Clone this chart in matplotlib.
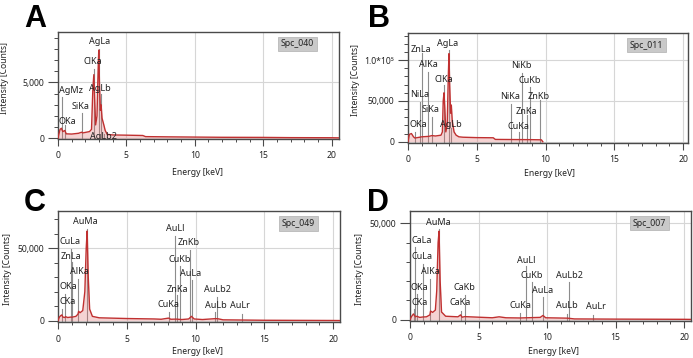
import matplotlib
matplotlib.use("Agg")
import matplotlib.pyplot as plt
from matplotlib.ticker import MultipleLocator, FuncFormatter

plt.rcParams['font.family'] = ['Noto Sans', 'DejaVu Sans']

# ---------------- DATA ----------------
# Panel A (Spc_040)
A_spec_keV = [0, 0.05, 0.15, 0.25, 0.35, 0.5, 0.6, 1.0, 1.5, 1.74, 1.8, 2.3, 2.45, 2.55, 2.62, 2.68,
              2.75, 2.85, 2.93, 2.98, 3.03, 3.1, 3.15, 3.22, 3.35, 3.45, 3.6, 4.0, 5.0, 6.2, 6.4, 8,
              10, 12, 15, 17, 20, 20.5]
A_spec_cts = [0, 300, 800, 900, 600, 700, 400, 380, 450, 550, 480, 600, 800, 4500, 5700, 3500,
              1200, 2000, 6000, 7900, 5000, 2500, 3000, 1800, 1200, 700, 350, 300, 280, 250, 150, 130,
              110, 90, 80, 60, 50, 40]
A_line_names = ["OKa", "AgMz", "SiKa", "ClKa", "AgLa", "AgLb", "AgLb2"]
A_line_keV = [0.525, 0.3, 1.74, 2.62, 2.98, 3.15, 3.35]
A_line_top = [1190, 3700, 2230, 6250, 8040, 4000, 400]

# Panel B (Spc_011)
B_spec_keV = [0, 0.1, 0.25, 0.4, 0.5, 0.85, 1.0, 1.5, 1.74, 2.0, 2.4, 2.5, 2.56, 2.62, 2.68, 2.75,
              2.85, 2.93, 2.98, 3.03, 3.1, 3.15, 3.22, 3.35, 3.5, 3.7, 4.0, 5.0, 6.2, 6.35, 8.0,
              9.0, 9.7, 9.8]
B_spec_cts = [0, 9000, 10000, 6000, 4500, 5500, 6000, 6500, 7500, 7000, 8000, 12000, 50000, 60000,
              40000, 12000, 20000, 80000, 108000, 70000, 35000, 45000, 25000, 12000, 8000, 6000,
              5500, 5000, 4800, 2800, 2600, 2500, 2300, 0]
B_line_names = ["OKa", "NiLa", "ZnLa", "AlKa", "SiKa", "ClKa", "AgLa", "AgLb",
                "NiKa", "CuKa", "NiKb", "ZnKa", "CuKb", "ZnKb"]
B_line_keV = [0.525, 0.85, 1.012, 1.486, 1.74, 2.62, 2.98, 3.15, 7.47, 8.04, 8.26, 8.63, 8.9, 9.57]
B_line_top = [12300, 49100, 108600, 86000, 30700, 69700, 112000, 16400,
              46000, 12300, 84000, 32800, 67000, 51200]

# Panel C (Spc_049)
C_spec_keV = [0, 0.1, 0.2, 0.28, 0.35, 0.5, 0.55, 0.7, 0.93, 1.0, 1.3, 1.45, 1.5, 1.6, 1.8, 1.95,
              2.05, 2.12, 2.2, 2.3, 2.5, 3.0, 5.0, 7.0, 7.5, 8.04, 8.2, 8.6, 9.0, 9.5, 9.7, 9.9,
              10.5, 11.4, 11.6, 12.0, 15.0, 20.0, 20.5]
C_spec_cts = [0, 2500, 3500, 4000, 2500, 2200, 2800, 2200, 2500, 2400, 3000, 4500, 6500, 5500,
              7000, 20000, 50000, 62000, 30000, 8000, 3000, 2000, 1500, 1200, 1000, 1800, 1000,
              1100, 800, 1200, 3000, 1200, 800, 1400, 1400, 600, 300, 150, 100]
C_line_names = ["CKa", "OKa", "CuLa", "ZnLa", "AlKa", "AuMa", "CuKa", "AuLl", "ZnKa", "CuKb",
                "ZnKb", "AuLa", "AuLb", "AuLb2", "AuLr"]
C_line_keV = [0.277, 0.525, 0.93, 1.012, 1.486, 2.12, 8.04, 8.49, 8.63, 8.9, 9.57, 9.71,
              11.44, 11.58, 13.38]
C_line_top = [8100, 18400, 49500, 40300, 28800, 63300, 6200, 58700, 17500, 37800, 48600, 27900,
              6000, 16200, 4600]

# Panel D (Spc_007)
D_spec_keV = [0, 0.1, 0.25, 0.4, 0.5, 0.7, 0.93, 1.2, 1.45, 1.5, 1.65, 1.85, 1.95, 2.05, 2.12,
              2.2, 2.3, 2.6, 3.5, 3.69, 3.8, 4.0, 6.0, 6.5, 7.0, 8.0, 9.5, 9.7, 9.9, 11.5, 12.0,
              15.0, 20.0, 20.5]
D_spec_cts = [0, 1500, 3000, 1500, 1800, 1200, 1400, 1500, 2500, 4500, 3800, 5000, 15000, 40000,
              46000, 20000, 4000, 1800, 1500, 2500, 1300, 1600, 1000, 1500, 1000, 900, 1200, 2200,
              1000, 800, 400, 300, 200, 150]
D_line_names = ["CKa", "CaLa", "OKa", "CuLa", "AlKa", "AuMa", "CaKa", "CaKb", "CuKa", "AuLl",
                "CuKb", "AuLa", "AuLb", "AuLb2", "AuLr"]
D_line_keV = [0.277, 0.341, 0.525, 0.93, 1.486, 2.12, 3.69, 4.01, 8.04, 8.49, 8.9, 9.71,
              11.44, 11.58, 13.38]
D_line_top = [5500, 37500, 13300, 28900, 21100, 47000, 4700, 12800, 3300, 27700, 19400, 11600,
              3000, 19400, 2300]

spectrum_ids = ["Spc_040", "Spc_011", "Spc_049", "Spc_007"]
panel_letters = ["A", "B", "C", "D"]

# ---------------- LAYOUT ----------------
# label centre positions (keV, counts)
A_label_pos = [(0.71, 1480), (0.95, 4250), (1.63, 2880), (2.53, 6900), (3.07, 8625), (3.09, 4460), (3.3, 200)]
B_label_pos = [(0.73, 20500), (0.82, 58200), (0.97, 113500), (1.5, 95100), (1.67, 39800),
               (2.6, 75800), (2.91, 120900), (3.1, 21400), (7.4, 55300), (8.0, 18400),
               (8.22, 93400), (8.6, 36900), (8.82, 74600), (9.5, 55300)]
C_label_pos = [(0.73, 13100), (0.78, 23300), (0.85, 54800), (0.95, 44500), (1.53, 33800),
               (1.96, 68400), (8.02, 11500), (8.49, 63800), (8.65, 21900), (8.87, 42600),
               (9.5, 53700), (9.67, 32700), (11.47, 10400), (11.56, 21400), (13.21, 10400)]
D_label_pos = [(0.71, 9000), (0.85, 41000), (0.71, 16800), (0.88, 32900), (1.49, 24900),
               (2.05, 50500), (3.63, 8700), (3.99, 16800), (8.06, 7300), (8.5, 31000),
               (8.86, 23200), (9.69, 15000), (11.44, 7300), (11.6, 23200), (13.58, 6900)]

W, H = 693, 358

panels = [
    dict(box=(58, 339, 32, 139), zero=138.3, ytop=9520, xmax=20.54, ymajor=5000,
         x=A_spec_keV, y=A_spec_cts, names=A_line_names, lk=A_line_keV, lt=A_line_top, lp=A_label_pos,
         letter=(24, 4), ylab=(5, 78), xlab=(197, 172)),
    dict(box=(408, 688, 33.3, 143), zero=141.7, ytop=133000, xmax=20.36, ymajor=50000,
         x=B_spec_keV, y=B_spec_cts, names=B_line_names, lk=B_line_keV, lt=B_line_top, lp=B_label_pos,
         letter=(368, 4), ylab=(356, 80), xlab=(549, 174)),
    dict(box=(58, 340, 211.3, 322), zero=320.7, ytop=75600, xmax=20.5, ymajor=50000,
         x=C_spec_keV, y=C_spec_cts, names=C_line_names, lk=C_line_keV, lt=C_line_top, lp=C_label_pos,
         letter=(24, 188), ylab=(7, 269), xlab=(198, 352)),
    dict(box=(410, 691, 211.3, 321), zero=319.7, ytop=56300, xmax=20.5, ymajor=50000,
         x=D_spec_keV, y=D_spec_cts, names=D_line_names, lk=D_line_keV, lt=D_line_top, lp=D_label_pos,
         letter=(367, 188), ylab=(359, 269), xlab=(553, 352)),
]


def fmt_factory(major):
    def f(v, pos):
        if abs(v) < 1e-9:
            return "0"
        if v >= 100000:
            return "1.0*10\u2075"
        return f"{int(v):,}"
    return FuncFormatter(f)


fig = plt.figure(figsize=(W / 100, H / 100), dpi=100)
fig.patch.set_facecolor("white")

spine_col = "#4a4a4a"
text_col = "#222222"

for i, p in enumerate(panels):
    l, r, t, b = p["box"]
    ax = fig.add_axes([l / W, 1 - b / H, (r - l) / W, (b - t) / H])
    ppu = (p["zero"] - t) / p["ytop"]
    ybot = -(b - p["zero"]) / ppu
    ax.set_xlim(0, p["xmax"])
    ax.set_ylim(ybot, p["ytop"])

    ax.xaxis.set_major_locator(MultipleLocator(5))
    ax.xaxis.set_minor_locator(MultipleLocator(1))
    ax.yaxis.set_major_locator(MultipleLocator(p["ymajor"]))
    ax.yaxis.set_minor_locator(MultipleLocator(p["ymajor"] / 5))
    ax.yaxis.set_major_formatter(fmt_factory(p["ymajor"]))

    ax.grid(True, which="major", color="#d6d6d6", lw=0.8, zorder=0)
    ax.set_axisbelow(True)

    for s in ax.spines.values():
        s.set_color(spine_col)
        s.set_linewidth(1.0)

    ax.tick_params(axis="x", which="major", direction="out", length=5, width=0.8,
                   colors=spine_col, labelcolor=text_col, labelsize=6.2, pad=4)
    ax.tick_params(axis="x", which="minor", direction="out", length=2.5, width=0.7, colors=spine_col)
    ax.tick_params(axis="y", which="major", direction="out", length=7, width=0.8,
                   colors=spine_col, labelcolor=text_col, labelsize=6.2, pad=3)
    ax.tick_params(axis="y", which="minor", direction="out", length=3, width=0.7, colors=spine_col)

    # marker lines
    for k, top in zip(p["lk"], p["lt"]):
        ax.plot([k, k], [0, top], color="#8c8c8c", lw=0.8, zorder=2)

    # spectrum
    ax.fill_between(p["x"], 0, p["y"], color="#e07070", alpha=0.3, lw=0, zorder=3)
    ax.plot(p["x"], p["y"], color="#c03030", lw=1.0, zorder=4)

    # labels
    for name, (lx, ly) in zip(p["names"], p["lp"]):
        ax.text(lx, ly, name, ha="center", va="center", fontsize=6.5, color=text_col,
                zorder=5, clip_on=True)

    ax.text(0.852, 0.89, spectrum_ids[i], transform=ax.transAxes, ha="center", va="center",
            fontsize=6.3, color=text_col,
            bbox=dict(boxstyle="square,pad=0.3", facecolor="#c9c9c9", edgecolor="#b0b0b0", lw=0.5))

    lx, ly = p["letter"]
    fig.text(lx / W, 1 - ly / H, panel_letters[i], ha="left", va="top", fontsize=22,
             fontweight="bold", color="black", family=["Liberation Sans", "DejaVu Sans"])
    yx, yy = p["ylab"]
    fig.text(yx / W, 1 - yy / H, "Intensity [Counts]", rotation=90, ha="center", va="center",
             fontsize=6.2, color=text_col)
    xx, xy = p["xlab"]
    fig.text(xx / W, 1 - xy / H, "Energy [keV]", ha="center", va="center", fontsize=6.2, color=text_col)

fig.savefig("out.png", dpi=100, facecolor="white")
